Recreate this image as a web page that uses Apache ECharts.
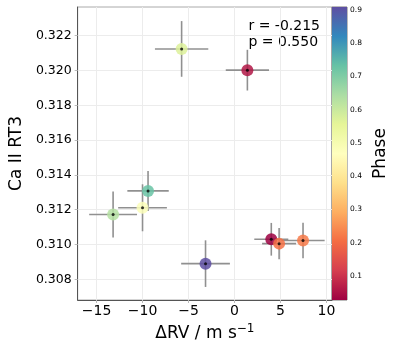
<!DOCTYPE html>
<html lang="en">
<head>
    <meta charset="UTF-8">
    <title>Ca II RT3 vs dRV</title>
    <style>
        * { margin: 0; padding: 0; }
        #chart { width: 399px; height: 349px; background: #fff; }
    </style>
</head>
<body>
    <div id="chart"></div>
    <script src="https://cdn.jsdelivr.net/npm/echarts@6/dist/echarts.min.js"></script>
    <script>
        // values
        var dRV   = [-9.4, -10.0, -13.2, -3.15, 4.0, 4.85, 7.45, -5.75, 1.4];
        var rt3   = [0.31308, 0.31211, 0.31172, 0.30890, 0.31030, 0.31005, 0.31023, 0.32124, 0.32002];
        var dRVErr = [2.25, 2.65, 2.6, 2.65, 1.85, 1.85, 2.35, 2.9, 2.35];
        var rt3Err = [0.00115, 0.00135, 0.00132, 0.00134, 0.00094, 0.0009, 0.00102, 0.0016, 0.00117];
        var phase = [0.73, 0.48, 0.63, 0.909, 0.028, 0.21, 0.22, 0.57, 0.06];

        var xTicks = [-15, -10, -5, 0, 5, 10];
        var yTicks = [0.308, 0.310, 0.312, 0.314, 0.316, 0.318, 0.320, 0.322];
        var phaseTicks = [0.1, 0.2, 0.3, 0.4, 0.5, 0.6, 0.7, 0.8, 0.9];

        var spectral = ['#9e0142', '#d53e4f', '#f46d43', '#fdae61', '#fee08b', '#ffffbf',
                        '#e6f598', '#abdda4', '#66c2a5', '#3288bd', '#5e4fa2'];

        var phaseMin = Math.min.apply(null, phase);
        var phaseMax = Math.max.apply(null, phase);

        var pts = [], bars = [];
        for (var i = 0; i < dRV.length; i++) {
            pts.push([dRV[i], rt3[i], phase[i]]);
            bars.push([dRV[i], rt3[i], dRVErr[i], rt3Err[i]]);
        }

        var font = 'DejaVu Sans';
        var chart = echarts.init(document.getElementById('chart'));

        var option = {
            animation: false,
            textStyle: { fontFamily: font },
            grid: [
                { left: 72, top: 7, right: 67, bottom: 49, show: true, borderColor: '#aaa', borderWidth: 1 },
                { left: 332, top: 7, width: 15, bottom: 49, show: true, borderColor: '#777', borderWidth: 1 }
            ],
            xAxis: [{
                type: 'value', gridIndex: 0, min: -17.05, max: 10.6,
                name: '{n|ΔRV / m s}{s|−1}', nameLocation: 'middle', nameGap: 18,
                nameTextStyle: {
                    rich: {
                        n: { fontSize: 17, fontFamily: font, color: '#000' },
                        s: { fontSize: 12, fontFamily: font, color: '#000', verticalAlign: 'top', padding: [0, 0, 10, 0] }
                    }
                },
                axisLine: { show: true, onZero: false, lineStyle: { color: '#555', width: 1 } },
                axisTick: { show: true, length: 3, lineStyle: { color: '#bbb' }, customValues: xTicks },
                axisLabel: {
                    fontSize: 14, color: '#000', margin: 4, customValues: xTicks,
                    formatter: function (v) { return v < 0 ? '\u2212' + (-v) : '' + v; }
                },
                splitLine: { show: true, lineStyle: { color: '#ececec', width: 1 } }
            }, {
                type: 'value', gridIndex: 1, min: 0, max: 1, show: false
            }],
            yAxis: [{
                type: 'value', gridIndex: 0, min: 0.30681, max: 0.32365,
                name: 'Ca II RT3', nameLocation: 'middle', nameGap: 47,
                nameTextStyle: { fontSize: 17, color: '#000' },
                axisLine: { show: true, onZero: false, lineStyle: { color: '#555', width: 1 } },
                axisTick: { show: true, length: 3, lineStyle: { color: '#bbb' }, customValues: yTicks },
                axisLabel: {
                    fontSize: 12.5, color: '#000', margin: 6, customValues: yTicks,
                    formatter: function (v) { return v.toFixed(3); }
                },
                splitLine: { show: true, lineStyle: { color: '#ececec', width: 1 } }
            }, {
                type: 'value', gridIndex: 1, position: 'right', min: phaseMin, max: phaseMax,
                name: 'Phase', nameLocation: 'middle', nameGap: 25, nameRotate: 90,
                nameTextStyle: { fontSize: 17, color: '#000' },
                axisLine: { show: false },
                axisTick: { show: true, length: 3, lineStyle: { color: '#333' }, customValues: phaseTicks },
                axisLabel: {
                    fontSize: 7.5, color: '#000', margin: 3, customValues: phaseTicks,
                    formatter: function (v) { return v.toFixed(1); }
                },
                splitLine: { show: false }
            }],
            visualMap: {
                type: 'continuous', show: false, dimension: 2, seriesIndex: 1,
                min: phaseMin, max: phaseMax,
                inRange: { color: spectral }
            },
            graphic: [{
                type: 'text', right: 79, top: 18,
                style: { text: 'r = -0.215\np = 0.550', font: '14px "DejaVu Sans"', fill: '#000', lineHeight: 16 }
            }],
            series: [{
                // error bars
                type: 'custom', xAxisIndex: 0, yAxisIndex: 0, z: 2,
                data: bars,
                encode: { x: 0, y: 1 },
                renderItem: function (params, api) {
                    var x = api.value(0), y = api.value(1), ex = api.value(2), ey = api.value(3);
                    var l = api.coord([x - ex, y]), r = api.coord([x + ex, y]);
                    var t = api.coord([x, y + ey]), b = api.coord([x, y - ey]);
                    var st = { stroke: '#909090', lineWidth: 1.6 };
                    return {
                        type: 'group',
                        children: [
                            { type: 'line', shape: { x1: l[0], y1: l[1], x2: r[0], y2: r[1] }, style: st },
                            { type: 'line', shape: { x1: t[0], y1: t[1], x2: b[0], y2: b[1] }, style: st }
                        ]
                    };
                }
            }, {
                type: 'scatter', xAxisIndex: 0, yAxisIndex: 0, z: 3,
                data: pts, symbolSize: 12,
                itemStyle: { opacity: 0.85 }
            }, {
                type: 'scatter', xAxisIndex: 0, yAxisIndex: 0, z: 4,
                data: pts, symbolSize: 3,
                itemStyle: { color: '#000' }
            }, {
                // colour bar
                type: 'custom', xAxisIndex: 1, yAxisIndex: 1,
                data: [[phaseMin, phaseMax]],
                encode: { y: [0, 1] },
                renderItem: function (params, api) {
                    var a = api.coord([0, api.value(0)]);
                    var b = api.coord([1, api.value(1)]);
                    var stops = spectral.map(function (c, k) {
                        return { offset: k / (spectral.length - 1), color: c };
                    });
                    return {
                        type: 'rect',
                        shape: { x: a[0], y: b[1], width: b[0] - a[0], height: a[1] - b[1] },
                        style: { fill: new echarts.graphic.LinearGradient(0, 1, 0, 0, stops) }
                    };
                }
            }]
        };

        chart.setOption(option);
    </script>
</body>
</html>
